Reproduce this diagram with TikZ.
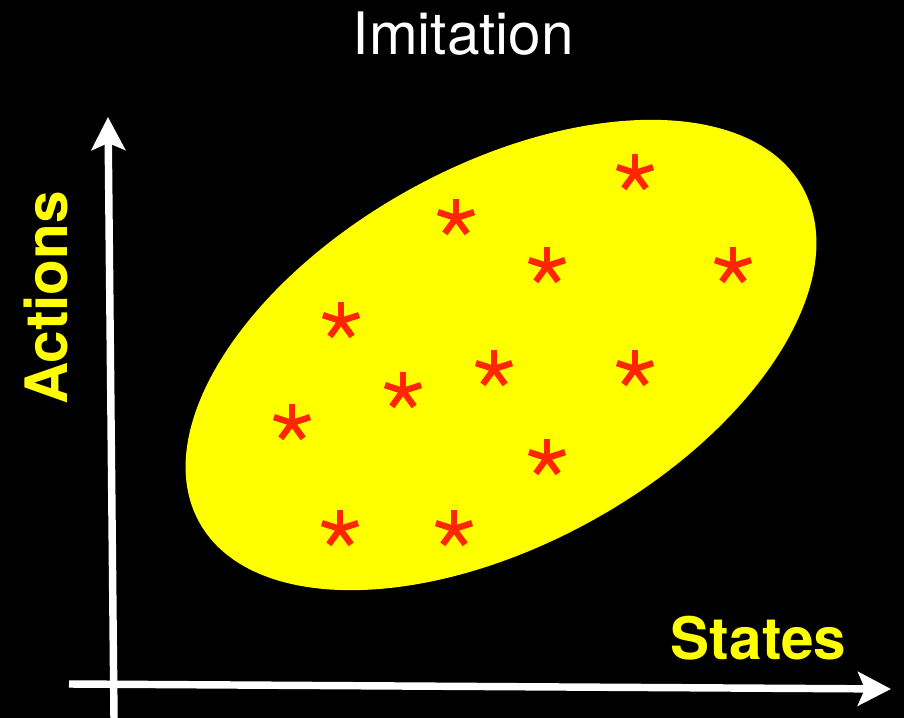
\documentclass[tikz,border=0pt]{standalone}
\usepackage{fontspec}
\setmainfont{TeX Gyre Heros}
\usetikzlibrary{arrows.meta}
\definecolor{gelb}{RGB}{255,255,0}
\definecolor{rot}{RGB}{255,38,0}

\begin{document}
\begin{tikzpicture}[x=0.025cm, y=0.025cm,
		achse/.style={line width=5.3pt, white, -{Stealth[length=23.5pt, width=24pt, inset=5pt]}},
		stern/.style={line width=4.5pt, rot, line cap=butt},
		label/.style={gelb, font=\fontsize{41.6}{50}\selectfont\bfseries, inner sep=0pt, anchor=base}]
	\useasboundingbox (0,0) rectangle (904,718);
	\fill[black] (0,0) rectangle (904,718);
	%Punktwolke
	\fill[gelb, rotate around={29:(501,363)}] (501,363) ellipse [x radius=345, y radius=189];
	\foreach \x/\y in {635/545, 456/500, 547/452, 733/452, 341/397, 494/349,
			635/349, 403/327, 292/295, 547/260, 340/189, 454/189}
		\foreach \w in {90,18,-54,-126,162}
			\draw[stern] (\x,\y) -- ++(\w:19);
	%Achsen
	\coordinate (ystart) at (114,0);
	\coordinate (yend) at (108,601);
	\coordinate (xstart) at (69,34);
	\coordinate (xend) at (891,29);
	\draw[achse] (ystart) -- (yend);
	\draw[achse] (xstart) -- (xend);
	\node[label, rotate=90] (actions) at (67,420) {Actions};
	\node[label] (states) at (758.5,58) {States};
	\node[white, font=\fontsize{41.6}{50}\selectfont, inner sep=0pt, anchor=base] (titel) at (463.5,663) {Imitation};
\end{tikzpicture}
\end{document}
